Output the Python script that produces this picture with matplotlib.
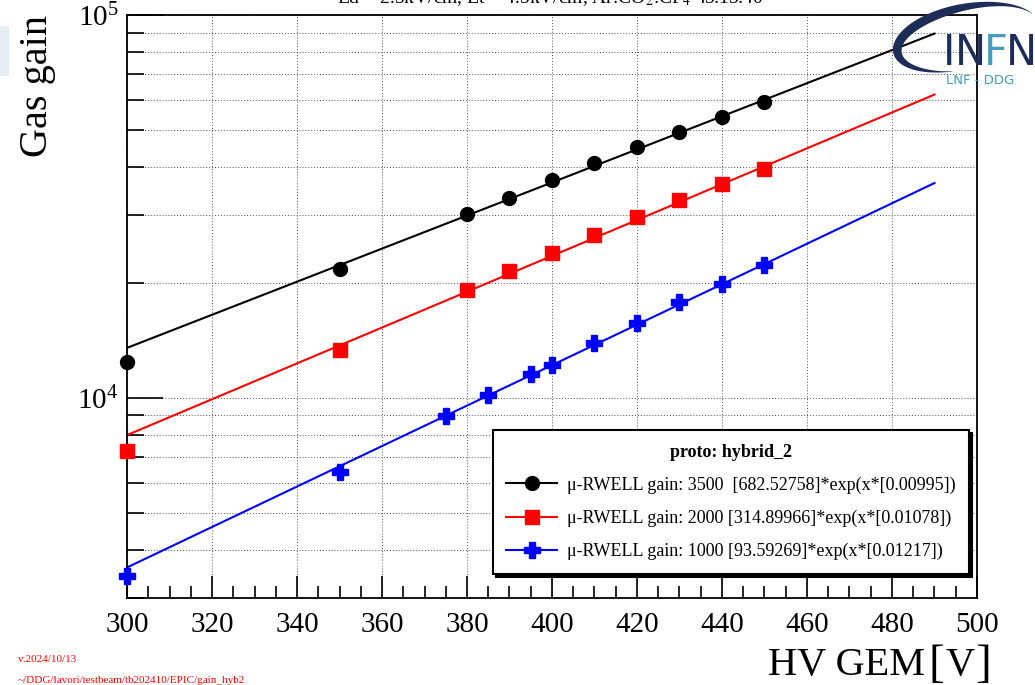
import numpy as np
import matplotlib
matplotlib.use("Agg")
import matplotlib.pyplot as plt
from matplotlib.ticker import LogLocator, MultipleLocator, NullFormatter
from matplotlib.patches import Rectangle, Polygon
from matplotlib.lines import Line2D

plt.rcParams['font.family'] = ['Liberation Serif', 'DejaVu Serif']
plt.rcParams['mathtext.fontset'] = 'stix'

# measured gain vs HV GEM
hv_3500 = [300, 350, 380, 390, 400, 410, 420, 430, 440, 450]
gain_3500 = [12400, 21700, 30150, 33350, 36960, 40950, 45100, 49600, 54200, 59300]

hv_2000 = [300, 350, 380, 390, 400, 410, 420, 430, 440, 450]
gain_2000 = [7280, 13340, 19100, 21410, 23880, 26580, 29600, 32780, 36090, 39700]

hv_1000 = [300, 350, 375, 385, 395, 400, 410, 420, 430, 440, 450]
gain_1000 = [3420, 6410, 8980, 10180, 11550, 12190, 13900, 15670, 17780, 19820, 22190]

# exponential fit parameters  p0*exp(x*p1)
fit_3500 = (682.52758, 0.00995)
fit_2000 = (314.89966, 0.01078)
fit_1000 = (93.59269, 0.01217)

labels = [
    "\u03bc-RWELL gain: 3500  [682.52758]*exp(x*[0.00995])",
    "\u03bc-RWELL gain: 2000 [314.89966]*exp(x*[0.01078])",
    "\u03bc-RWELL gain: 1000 [93.59269]*exp(x*[0.01217])",
]

W, H = 1035, 685
fig = plt.figure(figsize=(W / 100, H / 100), dpi=100)
ax = fig.add_axes([127 / W, 87 / H, 850 / W, 583 / H])

xfit = np.linspace(300, 490, 200)
series = [
    (hv_3500, gain_3500, fit_3500, 'black', 'o', 10),
    (hv_2000, gain_2000, fit_2000, 'red', 's', 10),
    (hv_1000, gain_1000, fit_1000, 'blue', 'P', 11),
]
for x, y, p, c, m, ms in series:
    ax.plot(xfit, p[0] * np.exp(xfit * p[1]), color=c, lw=1.5, zorder=2)
    ax.plot(x, y, ls='none', marker=m, ms=ms, mec=c, mfc=c, zorder=3, clip_on=False)

ax.set_yscale('log')
ax.set_xlim(300, 500)
ax.set_ylim(3000, 1e5)

ax.xaxis.set_major_locator(MultipleLocator(20))
ax.xaxis.set_minor_locator(MultipleLocator(5))
ax.yaxis.set_major_locator(LogLocator(base=10, numticks=10))
ax.yaxis.set_minor_locator(LogLocator(base=10, subs=np.arange(2, 10), numticks=20))
ax.yaxis.set_minor_formatter(NullFormatter())
ax.tick_params(axis='both', which='major', direction='in', length=16, width=1.2, labelsize=21,
               top=False, right=False)
ax.tick_params(axis='y', which='major', length=26)
ax.tick_params(axis='both', which='minor', direction='in', length=9, width=1.2, top=False, right=False)
ax.tick_params(axis='y', which='minor', length=12)
ax.tick_params(axis='x', pad=10)
ax.tick_params(axis='y', pad=6)
for s in ax.spines.values():
    s.set_linewidth(1.3)

ax.grid(True, which='major', axis='x', ls=(0, (1, 2)), color='0.3', lw=0.7)
ax.grid(True, which='both', axis='y', ls=(0, (1, 2)), color='0.3', lw=0.7)

leg_handles = [Line2D([], [], color=c, lw=1.5, marker=m, ms=ms, mfc=c, mec=c)
               for (_, _, _, c, m, ms) in series]
leg = ax.legend(leg_handles, labels, loc='upper right', bbox_to_anchor=(0.9906, 0.288),
                fontsize=13, title='proto: hybrid_2', title_fontproperties={'weight': 'bold', 'size': 13},
                frameon=True, fancybox=False, shadow={'color': 'black', 'alpha': 1.0},
                edgecolor='black', framealpha=1, handlelength=2.8, handletextpad=0.55,
                borderpad=0.75, labelspacing=0.88, borderaxespad=0)
leg.get_frame().set_linewidth(1.5)
leg.set_zorder(5)

# overlay in pixel coordinates for the annotations
ov = fig.add_axes([0, 0, 1, 1], facecolor='none')
ov.set_xlim(0, W)
ov.set_ylim(H, 0)
ov.axis('off')

ov.text(550, 3, r"Ed = 2.5kV/cm, Et = 4.5kV/cm, Ar:CO$_2$:CF$_4$ 45:15:40",
        fontsize=14, ha='center', va='baseline')
ov.text(37, 15, "Gas gain", fontsize=29, rotation=90, ha='center', va='top')
ov.text(925, 675, "HV GEM", fontsize=29, ha='right', va='baseline')
ov.text(928, 677, "[", fontsize=34, ha='left', va='baseline')
ov.text(945, 675, "V", fontsize=29, ha='left', va='baseline')
ov.text(975, 677, "]", fontsize=34, ha='left', va='baseline')
ov.text(18, 662, "v.2024/10/13", fontsize=8, color='red', va='baseline')
ov.text(18, 683, "~/DDG/lavori/testbeam/tb202410/EPIC/gain_hyb2", fontsize=8, color='red', va='baseline')

# INFN logo: crescent swoosh + lettering
navy = '#1d2d57'
light = '#4a9bbd'
ov.add_patch(Rectangle((0, 26), 9, 50, color='#e6ecf3', lw=0))
t = np.radians(np.linspace(108, 340, 120))
phi = np.radians(-12)
u = (t - t[0]) / (t[-1] - t[0])
wid = 11 * np.sin(np.pi * u) ** 1.2 * (1 - 0.3 * u) + 0.4
cx, cy, a, b = 968, 38, 72, 31


def ell(aa, bb):
    xs = cx + aa * np.cos(t) * np.cos(phi) - bb * np.sin(t) * np.sin(phi)
    ys = cy + aa * np.cos(t) * np.sin(phi) + bb * np.sin(t) * np.cos(phi)
    return np.column_stack([xs, ys])


outer = ell(a + wid / 2, b + wid / 2)
inner = ell(a - wid / 2, b - wid / 2)
ov.add_patch(Polygon(np.vstack([outer, inner[::-1]]), closed=True, color=navy, lw=0))
ov.text(943, 65, "I", fontsize=30, color=navy, family='DejaVu Sans', va='baseline', ha='left')
ov.text(955, 65, "N", fontsize=30, color=navy, family='DejaVu Sans', va='baseline', ha='left')
ov.text(984, 65, "F", fontsize=30, color=light, family='DejaVu Sans', va='baseline', ha='left')
ov.text(1006, 65, "N", fontsize=30, color=navy, family='DejaVu Sans', va='baseline', ha='left')
ov.text(946, 84, "LNF - DDG", fontsize=9.5, color=light, family='DejaVu Sans', va='baseline', ha='left')

fig.savefig("out.png", dpi=100)
